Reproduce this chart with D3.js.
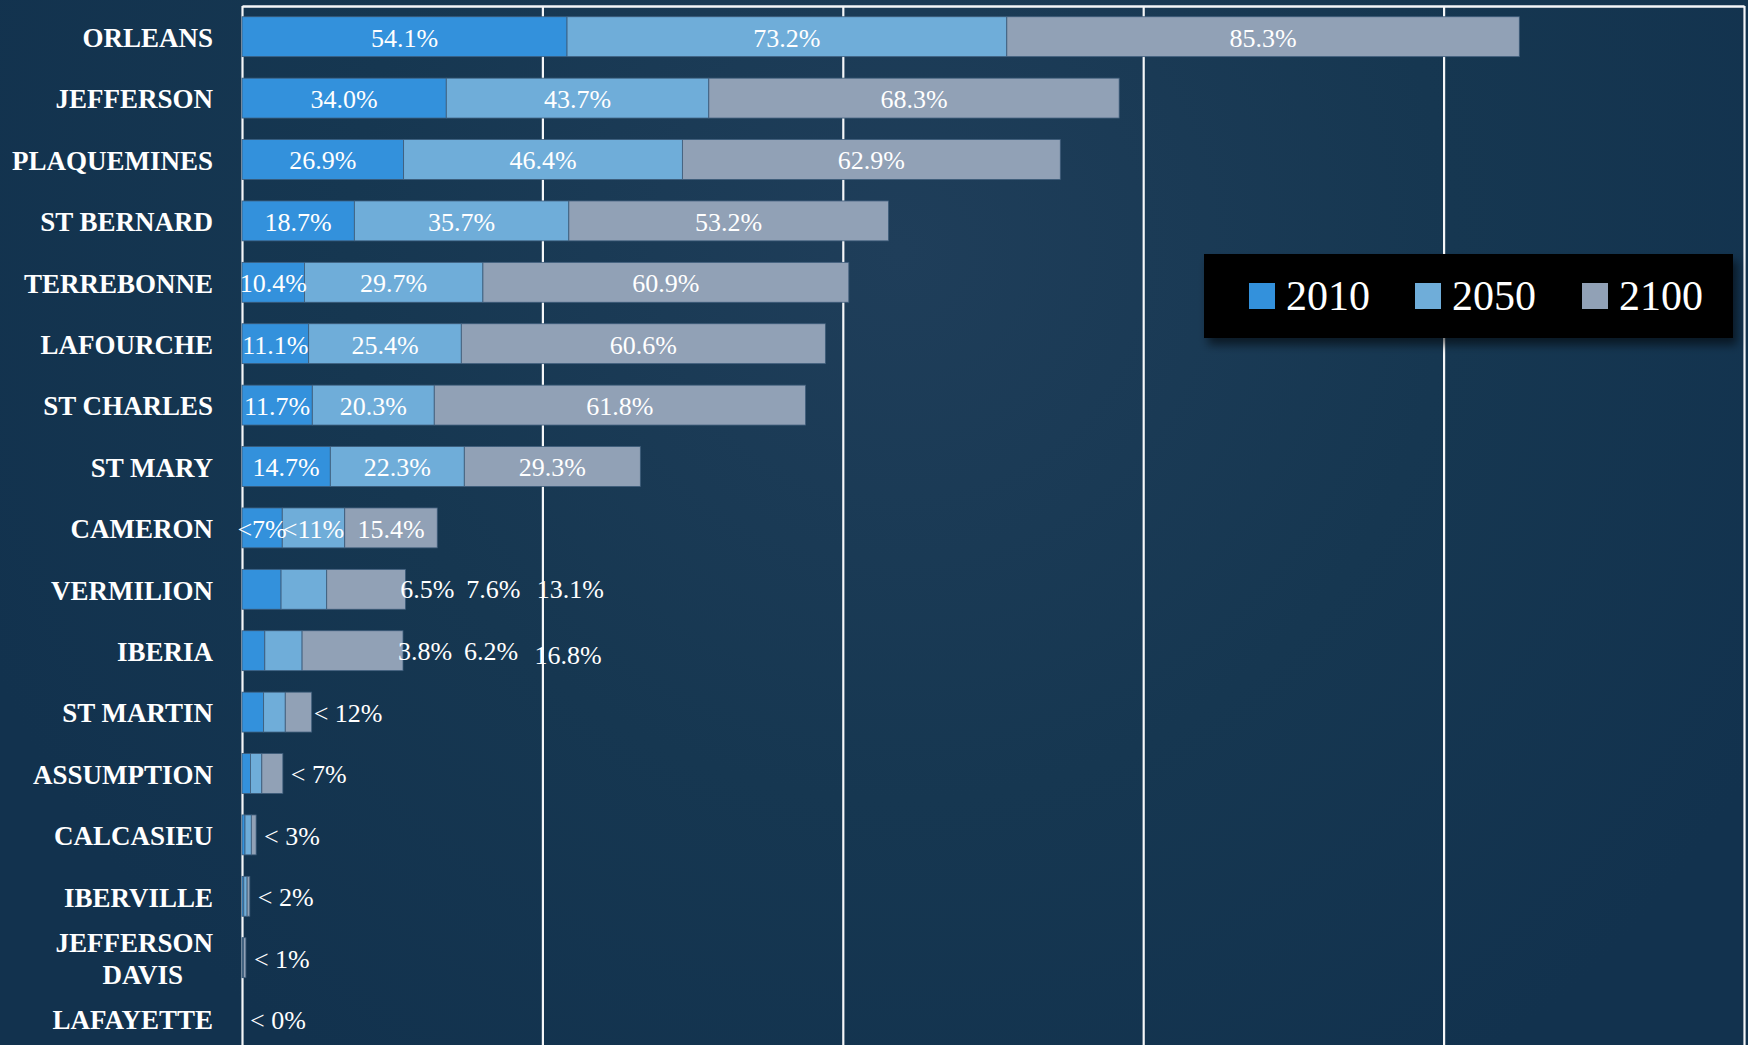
<!DOCTYPE html>
<html>
<head>
<meta charset="utf-8">
<script src="https://cdn.jsdelivr.net/npm/d3@7"></script>
<style>
  html, body { margin: 0; padding: 0; background: #13324e; }
  svg { display: block; }
</style>
</head>
<body>
<div id="chart"></div>
<script>
// counties, top to bottom
let counties = ["ORLEANS", "JEFFERSON", "PLAQUEMINES", "ST BERNARD", "TERREBONNE", "LAFOURCHE",
  "ST CHARLES", "ST MARY", "CAMERON", "VERMILION", "IBERIA", "ST MARTIN", "ASSUMPTION",
  "CALCASIEU", "IBERVILLE", "JEFFERSON DAVIS", "LAFAYETTE"];

// percent values per year (small ones)
let pct2010 = [54.1, 34.0, 26.9, 18.7, 10.4, 11.1, 11.7, 14.7, 6.7, 6.5, 3.8, 3.6, 1.4, 0.5, 0.3, 0.1, 0];
let pct2050 = [73.2, 43.7, 46.4, 35.7, 29.7, 25.4, 20.3, 22.3, 10.4, 7.6, 6.2, 3.6, 1.9, 1.05, 0.55, 0.15, 0];
let pct2100 = [85.3, 68.3, 62.9, 53.2, 60.9, 60.6, 61.8, 29.3, 15.4, 13.1, 16.8, 4.4, 3.5, 0.8, 0.45, 0.4, 0];

// labels as printed on the chart
let text2010 = ["54.1%", "34.0%", "26.9%", "18.7%", "10.4%", "11.1%", "11.7%", "14.7%", "<7%", "6.5%", "3.8%", "", "", "", "", "", ""];
let text2050 = ["73.2%", "43.7%", "46.4%", "35.7%", "29.7%", "25.4%", "20.3%", "22.3%", "<11%", "7.6%", "6.2%", "", "", "", "", "", ""];
let text2100 = ["85.3%", "68.3%", "62.9%", "53.2%", "60.9%", "60.6%", "61.8%", "29.3%", "15.4%", "13.1%", "16.8%", "", "", "", "", "", ""];
let totalText = ["", "", "", "", "", "", "", "", "", "", "", "< 12%", "< 7%", "< 3%", "< 2%", "< 1%", "< 0%"];
let outsideRows = ["VERMILION", "IBERIA"];

let years = ["2010", "2050", "2100"];
let colors = ["#3391dc", "#6fadd9", "#91a1b6"];
let xTicks = [0, 50, 100, 150, 200, 250];

let W = 1748, H = 1045;
let serif = "'Palatino Linotype', 'Book Antiqua', Palatino, 'Liberation Serif', serif";

let rows = counties.map(function(c, i) {
  return {county: c, "2010": pct2010[i], "2050": pct2050[i], "2100": pct2100[i],
    t: [text2010[i], text2050[i], text2100[i]], total: totalText[i]};
});

let svg = d3.select("#chart").append("svg")
  .attr("width", W)
  .attr("height", H);

let defs = svg.append("defs");
let bg = defs.append("radialGradient").attr("id", "bg")
  .attr("gradientUnits", "userSpaceOnUse")
  .attr("cx", 900).attr("cy", 250).attr("r", 1000);
bg.append("stop").attr("offset", "0%").attr("stop-color", "#1f3e5a");
bg.append("stop").attr("offset", "55%").attr("stop-color", "#163751");
bg.append("stop").attr("offset", "100%").attr("stop-color", "#12324e");

let shadow = defs.append("filter").attr("id", "shadow")
  .attr("x", "-10%").attr("y", "-30%").attr("width", "130%").attr("height", "180%");
shadow.append("feDropShadow")
  .attr("dx", 4).attr("dy", 7).attr("stdDeviation", 5)
  .attr("flood-color", "#000").attr("flood-opacity", 0.55);

svg.append("rect").attr("width", W).attr("height", H).attr("fill", "url(#bg)");

let x = d3.scaleLinear().domain([0, 250]).range([242, 1744]);
let y = d3.scaleBand().domain(counties)
  .range([6, 6 + 17 * 61.4])
  .paddingInner(0.35).paddingOuter(0.175);

// grid: top line, left axis, verticals every 50%
let grid = svg.append("g")
  .attr("transform", "translate(0,6)")
  .call(d3.axisTop(x).tickValues(xTicks).tickSizeInner(-H).tickSizeOuter(0).tickFormat(""));
grid.select(".domain").attr("stroke", "#f4f6f8").attr("stroke-width", 2.5);
grid.selectAll(".tick line").attr("stroke", "#f4f6f8").attr("stroke-width", 2.2);

// stacked bars
let stack = d3.stack().keys(years)(rows);

let layers = svg.append("g").selectAll("g")
  .data(stack)
  .join("g")
    .attr("fill", function(d, i) { return colors[i]; });

layers.selectAll("rect")
  .data(function(d) { return d; })
  .join("rect")
    .attr("x", function(d) { return x(d[0]); })
    .attr("y", function(d) { return y(d.data.county); })
    .attr("width", function(d) { return x(d[1]) - x(d[0]); })
    .attr("height", y.bandwidth())
    .attr("stroke", "#3d5c7a")
    .attr("stroke-width", 0.8);

// value labels
let labels = svg.append("g")
  .attr("font-family", serif)
  .attr("font-size", 26)
  .attr("fill", "#ffffff");

stack.forEach(function(layer, k) {
  layer.forEach(function(d) {
    let txt = d.data.t[k];
    if (!txt) return;
    let cy = y(d.data.county) + y.bandwidth() / 2;
    if (outsideRows.indexOf(d.data.county) >= 0) {
      let end = x(d.data["2010"] + d.data["2050"] + d.data["2100"]);
      let off = [22, 88, 165][k];
      labels.append("text")
        .attr("x", end + off)
        .attr("y", cy + (d.data.county == "IBERIA" && k == 2 ? 4 : 0))
        .attr("dy", "0.35em")
        .attr("text-anchor", "middle")
        .text(txt);
    } else {
      labels.append("text")
        .attr("x", (x(d[0]) + x(d[1])) / 2)
        .attr("y", cy)
        .attr("dy", "0.38em")
        .attr("text-anchor", "middle")
        .text(txt);
    }
  });
});

rows.forEach(function(r) {
  if (!r.total) return;
  let gap = r.county == "ST MARTIN" ? 2 : 8;
  labels.append("text")
    .attr("x", x(r["2010"] + r["2050"] + r["2100"]) + gap)
    .attr("y", y(r.county) + y.bandwidth() / 2)
    .attr("dy", "0.38em")
    .text(r.total);
});

// county names
let yAxis = svg.append("g")
  .attr("transform", "translate(213,0)")
  .call(d3.axisLeft(y).tickSize(0).tickPadding(0));
yAxis.select(".domain").remove();
yAxis.selectAll("text")
  .attr("font-family", serif)
  .attr("font-size", 27)
  .attr("font-weight", "bold")
  .attr("fill", "#ffffff")
  .attr("dy", "0.38em")
  .each(function(d) {
    let words = d == "JEFFERSON DAVIS" ? ["JEFFERSON", "DAVIS"] : [d];
    if (words.length == 1) return;
    let t = d3.select(this).text("").attr("dy", null);
    words.forEach(function(w, i) {
      t.append("tspan")
        .attr("x", i == 0 ? 0 : -30)
        .attr("dy", i == 0 ? "-0.22em" : "1.2em")
        .text(w);
    });
  });

// legend
let legend = svg.append("g").attr("transform", "translate(1204,254)");
legend.append("rect")
  .attr("width", 529).attr("height", 84)
  .attr("fill", "#000")
  .attr("filter", "url(#shadow)");
let itemX = [45, 211, 378];
years.forEach(function(yr, i) {
  legend.append("rect")
    .attr("x", itemX[i]).attr("y", 29)
    .attr("width", 26).attr("height", 26)
    .attr("fill", colors[i]);
  legend.append("text")
    .attr("x", itemX[i] + 37).attr("y", 56)
    .attr("font-family", serif)
    .attr("font-size", 42)
    .attr("fill", "#ffffff")
    .text(yr);
});
</script>
</body>
</html>
